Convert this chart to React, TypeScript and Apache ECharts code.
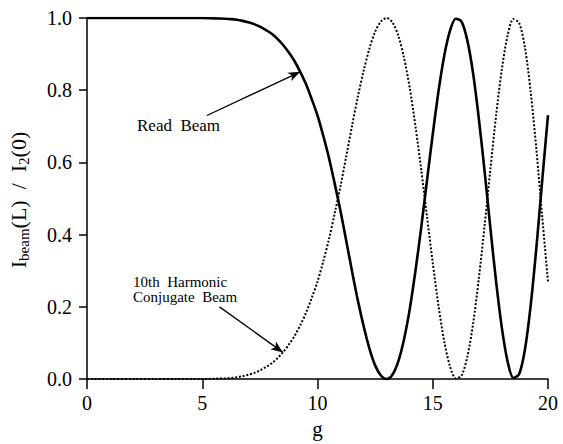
import { useEffect, useRef } from "react";
import * as echarts from "echarts";

// Coupling strength g along the crystal
const gValues = [
  0, 1, 2, 3, 4, 5, 5.5, 6, 6.25, 6.5, 6.75, 7, 7.25, 7.5, 7.75, 8, 8.25, 8.5, 8.75, 9,
  9.25, 9.5, 9.75, 10, 10.25, 10.5, 10.75, 11, 11.25, 11.5, 11.75, 12, 12.25, 12.5, 12.75,
  13, 13.25, 13.5, 13.75, 14, 14.25, 14.5, 14.75, 15, 15.25, 15.5, 15.75, 16, 16.25, 16.5,
  16.75, 17, 17.25, 17.5, 17.75, 18, 18.25, 18.5, 18.75, 19, 19.25, 19.5, 19.75, 20,
];

// Normalised intensity of the read beam
const readBeam = [
  1.0, 1.0, 1.0, 1.0, 1.0, 1.0, 0.999, 0.998, 0.997, 0.995, 0.992, 0.988, 0.983, 0.976, 0.967,
  0.957, 0.943, 0.926, 0.905, 0.881, 0.851, 0.817, 0.775, 0.73, 0.674, 0.612, 0.54, 0.465,
  0.382, 0.298, 0.218, 0.147, 0.085, 0.038, 0.01, 0.0, 0.012, 0.048, 0.109, 0.193, 0.3, 0.42,
  0.55, 0.678, 0.797, 0.896, 0.965, 0.998, 0.99, 0.938, 0.847, 0.721, 0.575, 0.419, 0.269,
  0.141, 0.048, 0.003, 0.014, 0.082, 0.205, 0.367, 0.551, 0.731,
];

// Normalised intensity of the 10th harmonic conjugate beam
const conjugateBeam = [
  0.0, 0.0, 0.0, 0.0, 0.0, 0.0, 0.001, 0.002, 0.003, 0.005, 0.008, 0.012, 0.017, 0.024, 0.033,
  0.043, 0.057, 0.074, 0.095, 0.119, 0.149, 0.183, 0.225, 0.27, 0.326, 0.388, 0.46, 0.535,
  0.618, 0.702, 0.782, 0.853, 0.915, 0.962, 0.99, 1.0, 0.988, 0.952, 0.891, 0.807, 0.7, 0.58,
  0.45, 0.322, 0.203, 0.104, 0.035, 0.002, 0.01, 0.062, 0.153, 0.279, 0.425, 0.581, 0.731,
  0.859, 0.952, 0.997, 0.986, 0.918, 0.795, 0.633, 0.449, 0.269,
];

// Annotation arrows: tail positions (data space) and the g where each arrow meets its curve
const readArrowTail = [5.2, 0.73];
const readArrowTipG = 9.25;
const conjArrowTail = [5.75, 0.2];
const conjArrowTipG = 8.5;

const SERIF = "Liberation Serif";

export default function App() {
  const ref = useRef<HTMLDivElement>(null);

  useEffect(() => {
    const chart = echarts.init(ref.current!, null, { renderer: "svg" });

    const readTip = [readArrowTipG, readBeam[gValues.indexOf(readArrowTipG)]];
    const conjTip = [conjArrowTipG, conjugateBeam[gValues.indexOf(conjArrowTipG)]];

    chart.setOption({
      animation: false,
      backgroundColor: "#ffffff",
      textStyle: { fontFamily: SERIF },
      grid: { left: 87, right: 15, top: 18, bottom: 63, containLabel: false },
      xAxis: {
        type: "value",
        min: 0,
        max: 20,
        interval: 5,
        offset: 2,
        name: "g",
        nameLocation: "middle",
        nameGap: 36,
        nameTextStyle: { fontFamily: SERIF, fontSize: 21, color: "#000" },
        axisLine: { lineStyle: { color: "#000", width: 1.5 } },
        axisTick: { inside: false, length: 10, lineStyle: { color: "#000", width: 1.5 } },
        axisLabel: { fontFamily: SERIF, fontSize: 20, color: "#000", margin: 12 },
        splitLine: { show: false },
      },
      yAxis: {
        type: "value",
        min: 0,
        max: 1,
        interval: 0.2,
        offset: 2,
        axisLine: { show: true, lineStyle: { color: "#000", width: 1.5 } },
        axisTick: { show: true, inside: false, length: 8, lineStyle: { color: "#000", width: 1.5 } },
        axisLabel: {
          fontFamily: SERIF,
          fontSize: 20,
          color: "#000",
          margin: 13,
          formatter: (v: number) => v.toFixed(1),
        },
        splitLine: { show: false },
      },
      series: [
        {
          name: "Read Beam",
          type: "line",
          data: gValues.map((g, i) => [g, readBeam[i]]),
          showSymbol: false,
          smooth: 0.3,
          lineStyle: { color: "#000", width: 2.6 },
          markLine: {
            silent: true,
            symbol: ["none", "arrow"],
            symbolSize: [7, 12],
            label: { show: false },
            lineStyle: { color: "#000", width: 1.3, type: "solid" },
            data: [
              [{ coord: readArrowTail }, { coord: readTip }],
              [{ coord: conjArrowTail }, { coord: conjTip }],
            ],
          },
        },
        {
          name: "10th Harmonic Conjugate Beam",
          type: "line",
          data: gValues.map((g, i) => [g, conjugateBeam[i]]),
          showSymbol: false,
          smooth: 0.3,
          lineStyle: { color: "#000", width: 2, type: [2, 1.8] },
        },
      ],
      graphic: [
        {
          type: "text",
          x: 18,
          y: 200,
          rotation: Math.PI / 2,
          style: {
            text: "{m|I}{s|beam}{m|(L)  /  I}{s|2}{m|(0)}",
            align: "center",
            verticalAlign: "middle",
            fill: "#000",
            rich: {
              m: { fontFamily: SERIF, fontSize: 22, lineHeight: 27, fill: "#000" },
              s: { fontFamily: SERIF, fontSize: 15, lineHeight: 14, verticalAlign: "bottom", fill: "#000" },
            },
          },
        },
        {
          type: "text",
          x: 137,
          y: 125,
          style: {
            text: "Read  Beam",
            fontFamily: SERIF,
            fontSize: 17,
            fill: "#000",
            align: "left",
            verticalAlign: "middle",
          },
        },
        {
          type: "text",
          x: 133,
          y: 289,
          style: {
            text: "10th  Harmonic\nConjugate  Beam",
            fontFamily: SERIF,
            fontSize: 15,
            lineHeight: 15,
            fill: "#000",
            align: "left",
            verticalAlign: "middle",
          },
        },
      ],
    });

    return () => chart.dispose();
  }, []);

  return (
    <div
      ref={ref}
      style={{ position: "fixed", left: 0, top: 0, width: 563, height: 444, background: "#fff" }}
    />
  );
}
